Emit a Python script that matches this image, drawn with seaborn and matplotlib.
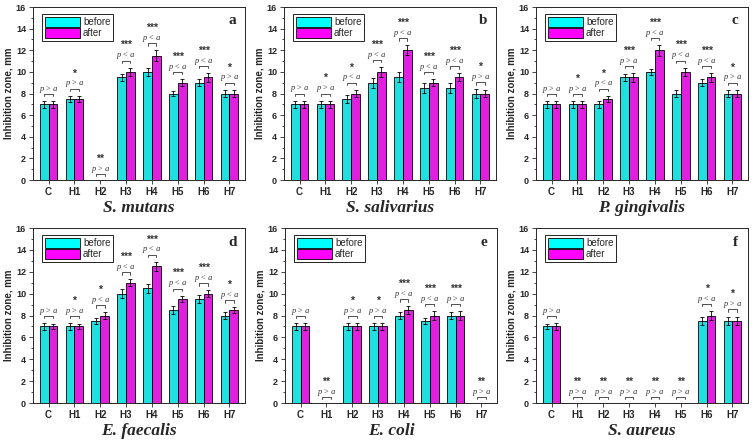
import numpy as np
import pandas as pd
import matplotlib.pyplot as plt
import seaborn as sns
from matplotlib.ticker import MultipleLocator
from matplotlib.patches import Patch

sns.set_style('ticks')
plt.rcParams['font.family'] = ['Liberation Sans', 'DejaVu Sans']

# 数据
cats = ['C', 'H1', 'H2', 'H3', 'H4', 'H5', 'H6', 'H7']

a_before = [7, 7.5, 0, 9.5, 10, 8, 9, 8]
a_after = [7, 7.5, 0, 10, 11.5, 9, 9.5, 8]
a_err_b = [0.3, 0.3, 0, 0.3, 0.35, 0.25, 0.3, 0.3]
a_err_a = [0.3, 0.3, 0, 0.4, 0.5, 0.35, 0.4, 0.35]
a_p = ['>', '>', '>', '<', '<', '<', '<', '>']
a_star = ['', '*', '**', '***', '***', '***', '***', '*']

b_before = [7, 7, 7.5, 9, 9.5, 8.5, 8.5, 8]
b_after = [7, 7, 8, 10, 12, 9, 9.5, 8]
b_err_b = [0.35, 0.35, 0.4, 0.45, 0.45, 0.45, 0.45, 0.4]
b_err_a = [0.3, 0.3, 0.35, 0.45, 0.45, 0.35, 0.35, 0.35]
b_p = ['>', '>', '<', '<', '<', '<', '<', '>']
b_star = ['', '*', '*', '***', '***', '***', '***', '*']

c_before = [7, 7, 7, 9.5, 10, 8, 9, 8]
c_after = [7, 7, 7.5, 9.5, 12, 10, 9.5, 8]
c_err_b = [0.3, 0.3, 0.3, 0.3, 0.3, 0.3, 0.3, 0.3]
c_err_a = [0.3, 0.3, 0.3, 0.4, 0.5, 0.4, 0.4, 0.35]
c_p = ['>', '>', '<', '>', '<', '<', '<', '>']
c_star = ['', '*', '*', '***', '***', '***', '***', '*']

d_before = [7, 7, 7.5, 10, 10.5, 8.5, 9.5, 8]
d_after = [7, 7, 8, 11, 12.5, 9.5, 10, 8.5]
d_err_b = [0.3, 0.3, 0.3, 0.4, 0.4, 0.35, 0.35, 0.35]
d_err_a = [0.25, 0.25, 0.3, 0.3, 0.4, 0.3, 0.3, 0.25]
d_p = ['>', '>', '<', '<', '<', '<', '<', '<']
d_star = ['', '*', '*', '***', '***', '***', '***', '*']

e_before = [7, 0, 7, 7, 8, 7.5, 8, 0]
e_after = [7, 0, 7, 7, 8.5, 8, 8, 0]
e_err_b = [0.3, 0, 0.3, 0.3, 0.35, 0.3, 0.35, 0]
e_err_a = [0.3, 0, 0.3, 0.3, 0.35, 0.4, 0.4, 0]
e_p = ['>', '>', '>', '>', '<', '<', '>', '>']
e_star = ['', '**', '*', '*', '***', '***', '***', '**']

f_before = [7, 0, 0, 0, 0, 0, 7.5, 7.5]
f_after = [7, 0, 0, 0, 0, 0, 8, 7.5]
f_err_b = [0.25, 0, 0, 0, 0, 0, 0.4, 0.4]
f_err_a = [0.3, 0, 0, 0, 0, 0, 0.4, 0.4]
f_p = ['>', '>', '>', '>', '>', '>', '<', '>']
f_star = ['', '**', '**', '**', '**', '**', '*', '*']

cyan = '#00FFFF'
magenta = '#FF00FF'


def draw_panel(ax, before, after, err_b, err_a, pvals, stars, species, letter):
    df = pd.DataFrame({
        'cat': cats * 2,
        'value': before + after,
        'when': ['before'] * len(cats) + ['after'] * len(cats),
    })
    sns.barplot(data=df, x='cat', y='value', hue='when', palette=[cyan, magenta],
                width=0.68, edgecolor='black', linewidth=0.6, errorbar=None,
                legend=False, ax=ax)
    # 误差线
    for cont, errs in zip(ax.containers, [err_b, err_a]):
        for bar, e in zip(cont, errs):
            h = bar.get_height()
            if h > 0:
                ax.errorbar(bar.get_x() + bar.get_width() / 2, h, yerr=e, fmt='none',
                            ecolor='black', elinewidth=0.6, capsize=1.6, capthick=0.6)
    # 显著性标注
    for i in range(len(cats)):
        top = max(before[i] + err_b[i], after[i] + err_a[i])
        y0 = top + 0.65 if top > 0 else 0.55
        ax.plot([i - 0.17, i - 0.17, i + 0.17, i + 0.17], [y0 - 0.22, y0, y0, y0 - 0.22],
                color='#333333', lw=0.6)
        ax.text(i, y0 + 0.12, f'p {pvals[i]} a', ha='center', va='bottom', fontsize=6,
                style='italic', family='Liberation Serif', color='#333333')
        if stars[i]:
            ax.text(i, y0 + 0.95, stars[i], ha='center', va='bottom', fontsize=7.5,
                    fontweight='bold', color='#333333')
    ax.set_ylim(0, 16)
    ax.set_xlim(-0.6, len(cats) - 0.4)
    ax.yaxis.set_major_locator(MultipleLocator(2))
    ax.yaxis.set_minor_locator(MultipleLocator(1))
    ax.tick_params(axis='both', which='major', direction='out', length=3, width=0.6,
                   labelsize=6.5, pad=2)
    ax.tick_params(axis='x', labelsize=7)
    ax.tick_params(axis='y', which='minor', direction='out', length=1.6, width=0.6)
    for lab in ax.get_xticklabels() + ax.get_yticklabels():
        lab.set_fontweight('bold')
    for sp in ax.spines.values():
        sp.set_visible(True)
        sp.set_linewidth(0.7)
    ax.set_xlabel(species, fontsize=12.5, fontweight='bold', style='italic',
                  family='Liberation Serif', labelpad=2)
    ax.set_ylabel('Inhibition zone, mm', fontsize=7, fontweight='bold', labelpad=2)
    ax.text(0.94, 0.92, letter, transform=ax.transAxes, ha='center', va='center',
            fontsize=11, fontweight='bold', family='Liberation Serif')
    handles = [Patch(facecolor=cyan, edgecolor='black', linewidth=0.6),
               Patch(facecolor=magenta, edgecolor='black', linewidth=0.6)]
    ax.legend(handles, ['before', 'after'], loc='upper left', fontsize=7,
              handlelength=3.6, handleheight=1.1, handletextpad=0.3, labelspacing=0.1,
              borderpad=0.3, fancybox=False, edgecolor='black', framealpha=1,
              bbox_to_anchor=(0.02, 0.985))
    ax.get_legend().get_frame().set_linewidth(0.6)


fig = plt.figure(figsize=(7.54, 4.4), dpi=100)
w, h1, h2 = 212 / 754, 173 / 440, 175 / 440
ax_a = fig.add_axes([33 / 754, 1 - 180 / 440, w, h1])
ax_b = fig.add_axes([284 / 754, 1 - 180 / 440, w, h1])
ax_c = fig.add_axes([536 / 754, 1 - 180 / 440, w, h1])
ax_d = fig.add_axes([33 / 754, 1 - 403 / 440, w, h2])
ax_e = fig.add_axes([285 / 754, 1 - 403 / 440, w, h2])
ax_f = fig.add_axes([536 / 754, 1 - 403 / 440, w, h2])

draw_panel(ax_a, a_before, a_after, a_err_b, a_err_a, a_p, a_star, 'S. mutans', 'a')
draw_panel(ax_b, b_before, b_after, b_err_b, b_err_a, b_p, b_star, 'S. salivarius', 'b')
draw_panel(ax_c, c_before, c_after, c_err_b, c_err_a, c_p, c_star, 'P. gingivalis', 'c')
draw_panel(ax_d, d_before, d_after, d_err_b, d_err_a, d_p, d_star, 'E. faecalis', 'd')
draw_panel(ax_e, e_before, e_after, e_err_b, e_err_a, e_p, e_star, 'E. coli', 'e')
draw_panel(ax_f, f_before, f_after, f_err_b, f_err_a, f_p, f_star, 'S. aureus', 'f')

fig.savefig('out.png', dpi=100)
